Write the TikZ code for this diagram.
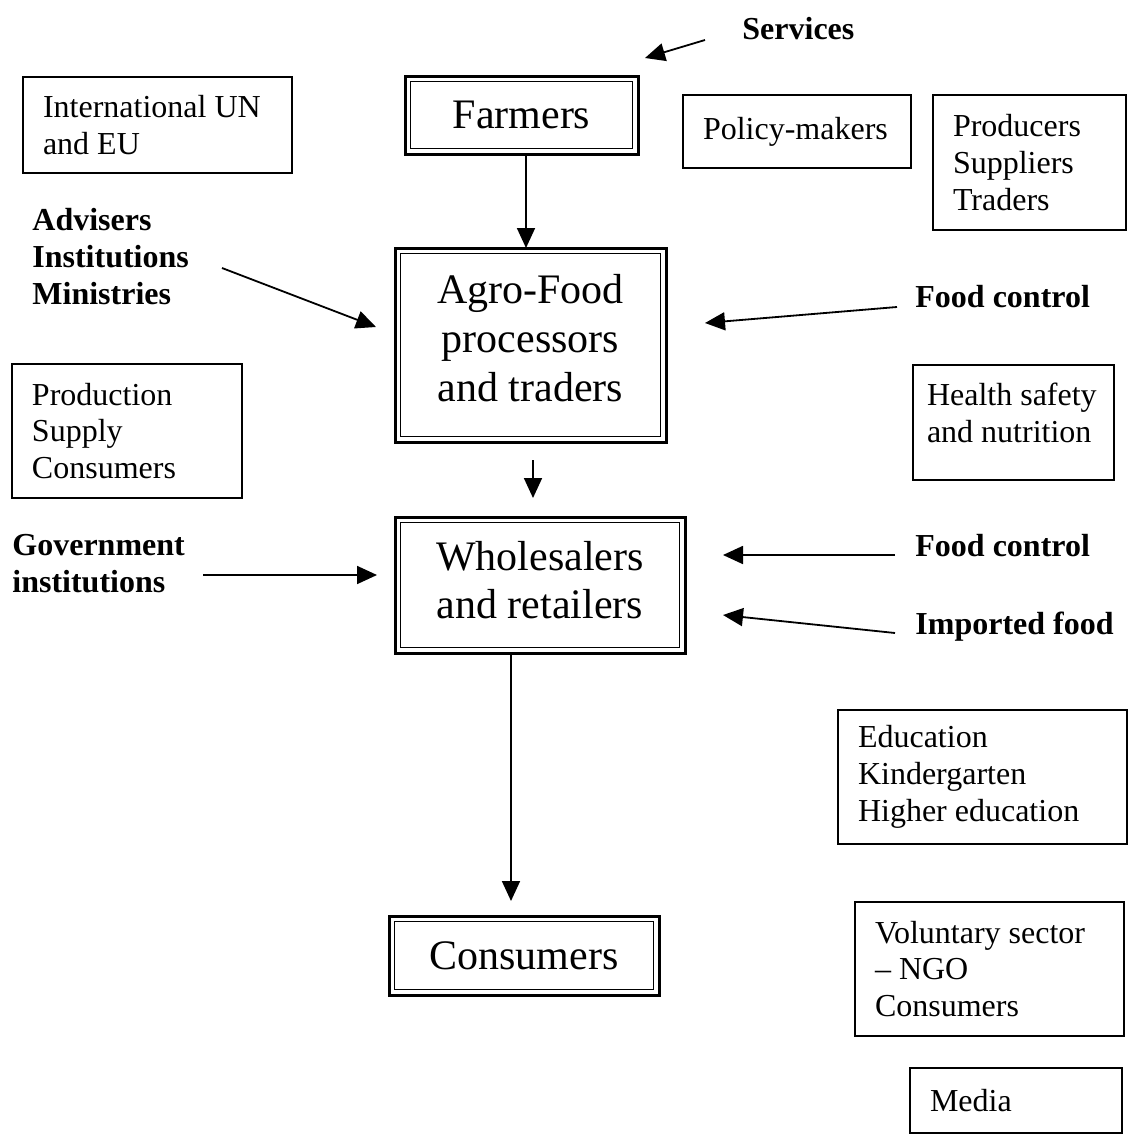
\documentclass[tikz,border=0pt]{standalone}
\usepackage{fontspec}
\setmainfont{Liberation Serif}
\usetikzlibrary{arrows.meta, positioning, calc}

\begin{document}
\begin{tikzpicture}[
    x=0.5pt, y=-0.5pt,
    mainbox/.style={draw, line width=1.5pt, outer sep=0pt, align=center,
                    font=\fontsize{21}{24.3}\selectfont},
    infobox/.style={draw, line width=0.75pt, align=flush left, inner xsep=10pt,
                    font=\fontsize{16}{18.4}\selectfont},
    actor/.style={inner sep=0pt, anchor=north west, align=flush left,
                  font=\fontsize{16}{18.4}\selectfont\bfseries},
    arr/.style={-{Triangle[length=10pt, width=9pt]}, line width=0.9pt}
]
    \useasboundingbox (0,0) rectangle (1128,1135);

    % Food chain
    \node[mainbox, minimum width=116.5pt, minimum height=39pt] (farmers) at (521.5,115) {Farmers};
    \node[mainbox, minimum width=135.5pt, minimum height=97pt, text depth=7pt] (agro) at (530.5,345) {Agro-Food\\processors\\and traders};
    \node[mainbox, minimum width=145pt, minimum height=68pt, text depth=5pt] (whole) at (540,585) {Wholesalers\\and retailers};
    \node[mainbox, minimum width=135pt, minimum height=39.5pt] (consumers) at (524,955.5) {Consumers};
    \foreach \n in {farmers, agro, whole, consumers}
        \draw[line width=0.75pt] ([shift={(2.8pt,2.8pt)}]\n.south west) rectangle ([shift={(-2.8pt,-2.8pt)}]\n.north east);

    % Stakeholder boxes
    \node[infobox, text width=114.5pt, minimum height=48pt] (intl) at (157.5,125) {International UN\\and EU};
    \node[infobox, text width=94pt, minimum height=36.5pt] (policy) at (797,131.5) {Policy-makers};
    \node[infobox, text width=76.5pt, minimum height=67.5pt] (producers) at (1029.5,162.5) {Producers\\Suppliers\\Traders};
    \node[infobox, text width=95pt, minimum height=67pt] (production) at (127,431) {Production\\Supply\\Consumers};
    \node[infobox, inner xsep=7pt, text width=86.5pt, minimum height=57.5pt, text depth=28pt] (health) at (1013.5,422.5) {Health safety\\and nutrition};
    \node[infobox, text width=124.5pt, minimum height=67pt] (education) at (982.5,777) {Education\\Kindergarten\\Higher education};
    \node[infobox, text width=114.5pt, minimum height=67pt] (voluntary) at (989.5,969) {Voluntary sector\\-- NGO\\Consumers};
    \node[infobox, text width=86pt, minimum height=32.5pt] (media) at (1016,1100.5) {Media};

    % Influences
    \node[actor] (services) at (742,17) {Services};
    \node[actor] (advisers) at (32,208) {Advisers\\Institutions\\Ministries};
    \node[actor] (foodctl) at (915,285) {Food control};
    \node[actor] (govt) at (12,534) {Government\\institutions};
    \node[actor] (foodctl2) at (915,534) {Food control};
    \node[actor] (imported) at (915,612) {Imported food};

    \coordinate (svc-from) at (705,40);
    \coordinate (svc-to) at (645,58);
    \coordinate (adv-from) at (222,268);
    \coordinate (adv-to) at (376,327);
    \coordinate (fc-from) at (897,307);
    \coordinate (fc-to) at (705,323);
    \coordinate (gov-from) at (203,575);
    \coordinate (gov-to) at (377,575);
    \coordinate (fc2-from) at (895,555);
    \coordinate (fc2-to) at (723,555);
    \coordinate (imp-from) at (895,633);
    \coordinate (imp-to) at (723,615);

    \draw[arr] ([xshift=2.25pt]farmers.south) -- ([xshift=2.25pt]farmers.south |- agro.north);
    \draw[arr, shorten <=9pt, shorten >=9.5pt] ([xshift=1.25pt]agro.south) -- ([xshift=1.25pt]agro.south |- whole.north);
    \draw[arr, shorten >=7.5pt] ([xshift=-14.5pt]whole.south) -- ([xshift=-14.5pt]whole.south |- consumers.north);

    \draw[arr] (svc-from) -- (svc-to);
    \draw[arr] (adv-from) -- (adv-to);
    \draw[arr] (fc-from) -- (fc-to);
    \draw[arr] (gov-from) -- (gov-to);
    \draw[arr] (fc2-from) -- (fc2-to);
    \draw[arr] (imp-from) -- (imp-to);
\end{tikzpicture}
\end{document}
